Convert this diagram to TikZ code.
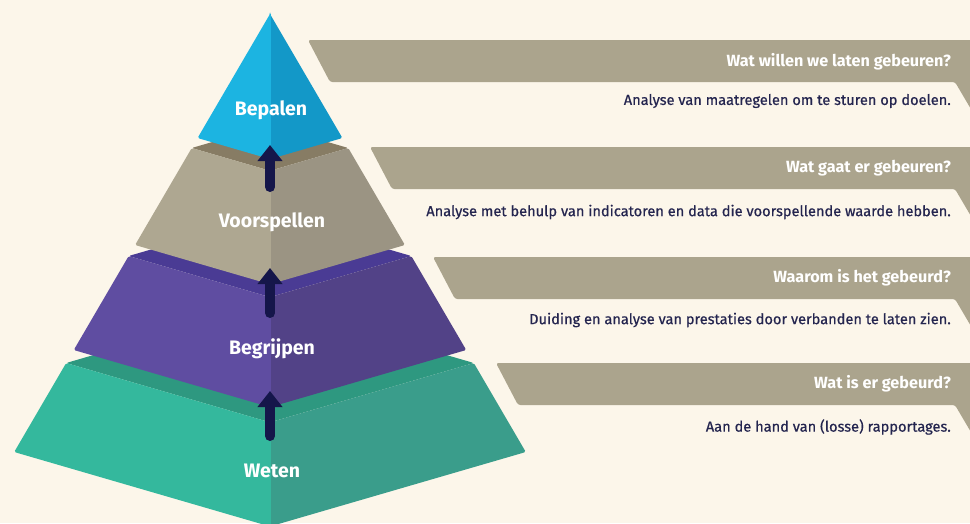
\documentclass[tikz,border=0pt]{standalone}
\usepackage{fontspec}
\setmainfont{Fira Sans}
\newfontfamily\medfont{Fira Sans}[FakeBold=0.6]
\usepackage{tikz}
\usetikzlibrary{arrows.meta}
\usetikzlibrary{positioning}
\definecolor{cream}{HTML}{FCF6EA}
\definecolor{band}{HTML}{ABA48D}
\definecolor{pijlnavy}{HTML}{15164A}
\definecolor{tekstnavy}{HTML}{24254F}
\definecolor{cyanL}{HTML}{1CB4E1}
\definecolor{cyanR}{HTML}{1398C8}
\definecolor{taupeL}{HTML}{AEA791}
\definecolor{taupeR}{HTML}{9B9483}
\definecolor{taupeT}{HTML}{877C64}
\definecolor{paarsL}{HTML}{5F4DA1}
\definecolor{paarsR}{HTML}{524287}
\definecolor{paarsT}{HTML}{4A3B94}
\definecolor{groenL}{HTML}{34B89D}
\definecolor{groenR}{HTML}{3A9D8B}
\definecolor{groenT}{HTML}{2E9880}

% one slice of the pyramid: #1 top y, #2 bottom y, #3 left face, #4 right face, #5 top face
\newcommand{\pyrlayer}[5]{%
  \pgfmathsetmacro{\topw}{0.584*(#1-14)}
  \pgfmathsetmacro{\topd}{0.17*(#1-14)}
  \pgfmathsetmacro{\botw}{0.584*(#2-14)}
  \pgfmathsetmacro{\botd}{0.17*(#2-14)}
  \fill[#5,rounded corners=1.5pt] (270-\topw,#1) -- (270,#1-\topd) -- (270+\topw,#1) -- (270,#1+\topd) -- cycle;
  \fill[#3,rounded corners=1.5pt] (270-\topw,#1) -- (270,#1+\topd) -- (270,#2+\botd) -- (270-\botw,#2) -- cycle;
  \fill[#4,rounded corners=1.5pt] (270+\topw,#1) -- (270,#1+\topd) -- (270,#2+\botd) -- (270+\botw,#2) -- cycle;
  \fill[#3] (270-0.5,#1+\topd) rectangle (270.5,#2+\botd-2);
}

% grey banner: #1 top y, #2 left x
\newcommand{\banner}[2]{%
  \fill[band,rounded corners=2.5pt] (#2,#1) -- (975,#1) -- (975,#1+76) -- (955,#1+42) -- (#2+22,#1+42) -- cycle;
}

\begin{document}
\begin{tikzpicture}[x=1pt,y=-1pt,
  lvl/.style={text=white,font=\fontsize{19.5}{22}\selectfont\bfseries},
  vraag/.style={anchor=east,text=white,inner sep=0pt,font=\fontsize{16.2}{19}\selectfont\bfseries},
  uitleg/.style={anchor=east,text=tekstnavy,inner sep=0pt,font=\fontsize{14.6}{17}\medfont},
  pijl/.style={line width=10pt,color=pijlnavy,line cap=round,-{Triangle[length=16pt,width=24pt]}}]
\useasboundingbox (0,0) rectangle (970,523);
\fill[cream] (0,0) rectangle (970,523);

\banner{40}{308}
\banner{147}{370}
\banner{257}{433}
\banner{363}{496}

\pyrlayer{363}{452}{groenL}{groenR}{groenT}
\pyrlayer{256}{350}{paarsL}{paarsR}{paarsT}
\pyrlayer{148}{245}{taupeL}{taupeR}{taupeT}
\pyrlayer{14}{138}{cyanL}{cyanR}{cyanR}

\coordinate (a1) at (270,187);
\coordinate (b1) at (270,145);
\coordinate (a2) at (270,313);
\coordinate (b2) at (270,268);
\coordinate (a3) at (270,436);
\coordinate (b3) at (270,391);
\draw[pijl] (a1) -- (b1);
\draw[pijl] (a2) -- (b2);
\draw[pijl] (a3) -- (b3);

\node[lvl] (bepalen) at (271,110) {Bepalen};
\node[lvl] (voorspellen) at (272,222) {Voorspellen};
\node[lvl] (begrijpen) at (272,349) {Begrijpen};
\node[lvl] (weten) at (272,471) {Weten};

\node[vraag] (v1) at (951,62) {Wat willen we laten gebeuren?};
\node[uitleg] (u1) at (951,101) {Analyse van maatregelen om te sturen op doelen.};
\node[vraag] (v2) at (951,168) {Wat gaat er gebeuren?};
\node[uitleg] (u2) at (951,212) {Analyse met behulp van indicatoren en data die voorspellende waarde hebben.};
\node[vraag] (v3) at (951,278) {Waarom is het gebeurd?};
\node[uitleg] (u3) at (951,320) {Duiding en analyse van prestaties door verbanden te laten zien.};
\node[vraag] (v4) at (951,384) {Wat is er gebeurd?};
\node[uitleg] (u4) at (951,427) {Aan de hand van (losse) rapportages.};
\end{tikzpicture}
\end{document}
